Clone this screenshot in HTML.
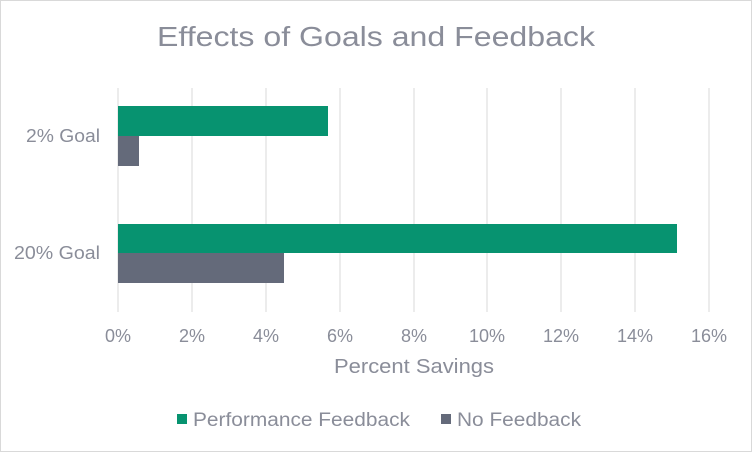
<!DOCTYPE html>
<html><head><meta charset="utf-8"><style>
body{margin:0;background:#fff}
svg text{font-family:"Liberation Sans",sans-serif;fill:#8a8d99}
</style></head><body>
<svg width="752" height="452" xmlns="http://www.w3.org/2000/svg">
<rect x="0.5" y="0.5" width="751" height="451" fill="#fff" stroke="#d9d9d9"/>
<text x="157" y="46" font-size="28" textLength="438" lengthAdjust="spacingAndGlyphs">Effects of Goals and Feedback</text>
<g stroke="#d9d9d9" stroke-width="1">
<line x1="118" y1="88" x2="118" y2="312"/><line x1="192" y1="88" x2="192" y2="312"/>
<line x1="266" y1="88" x2="266" y2="312"/><line x1="340" y1="88" x2="340" y2="312"/>
<line x1="414" y1="88" x2="414" y2="312"/><line x1="487" y1="88" x2="487" y2="312"/>
<line x1="561" y1="88" x2="561" y2="312"/><line x1="635" y1="88" x2="635" y2="312"/>
<line x1="709" y1="88" x2="709" y2="312"/>
</g>
<rect x="118" y="106" width="210" height="30" fill="#079370"/>
<rect x="118" y="136" width="21" height="30" fill="#646a7a"/>
<rect x="118" y="224" width="559" height="29" fill="#079370"/>
<rect x="118" y="253" width="166" height="30" fill="#646a7a"/>
<text x="26" y="142" font-size="18" textLength="74" lengthAdjust="spacingAndGlyphs">2% Goal</text>
<text x="14" y="259" font-size="18" textLength="86" lengthAdjust="spacingAndGlyphs">20% Goal</text>
<g font-size="18" text-anchor="middle">
<text x="118" y="342">0%</text><text x="192" y="342">2%</text><text x="266" y="342">4%</text>
<text x="340" y="342">6%</text><text x="414" y="342">8%</text><text x="487" y="342">10%</text>
<text x="561" y="342">12%</text><text x="635" y="342">14%</text><text x="709" y="342">16%</text>
</g>
<text x="334" y="373" font-size="20" textLength="160" lengthAdjust="spacingAndGlyphs">Percent Savings</text>
<rect x="177" y="414" width="10" height="10" fill="#079370"/>
<text x="193" y="426" font-size="19" textLength="217" lengthAdjust="spacingAndGlyphs">Performance Feedback</text>
<rect x="441" y="414" width="10" height="10" fill="#646a7a"/>
<text x="457" y="426" font-size="19" textLength="124" lengthAdjust="spacingAndGlyphs">No Feedback</text>
</svg>
</body></html>
